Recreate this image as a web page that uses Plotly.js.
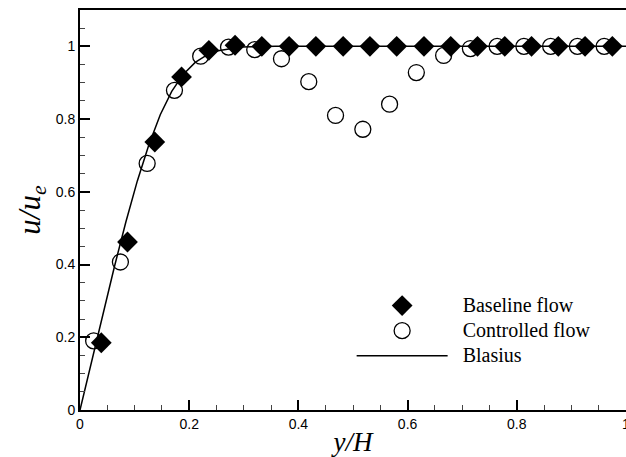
<!DOCTYPE html>
<html>
<head>
<meta charset="utf-8">
<script src="https://cdn.plot.ly/plotly-3.0.1.min.js"></script>
<style>html,body{margin:0;padding:0;background:#fff;}#chart{width:626px;height:457px;}</style>
</head>
<body>
<div id="chart"></div>
<script>
// Baseline flow (filled diamonds)
var baseX = [0.039, 0.087, 0.137, 0.186, 0.236, 0.284, 0.333, 0.383, 0.432, 0.482, 0.531, 0.580, 0.630, 0.679, 0.728, 0.778, 0.827, 0.876, 0.925, 0.975];
var baseU = [0.185, 0.462, 0.737, 0.916, 0.989, 1.003, 1.0, 1.0, 1.0, 1.0, 1.0, 1.0, 1.0, 1.0, 1.0, 1.0, 1.0, 1.0, 1.0, 1.0];
// Controlled flow (open circles)
var ctrlX = [0.025, 0.074, 0.123, 0.173, 0.221, 0.272, 0.320, 0.369, 0.419, 0.468, 0.518, 0.567, 0.616, 0.666, 0.715, 0.764, 0.813, 0.862, 0.911, 0.960];
var ctrlU = [0.19, 0.407, 0.678, 0.879, 0.973, 0.998, 0.991, 0.966, 0.903, 0.810, 0.772, 0.841, 0.928, 0.975, 0.994, 1.0, 1.0, 1.0, 1.0, 1.0];
// Blasius profile
var blasX = [0, 0.021, 0.042, 0.063, 0.084, 0.105, 0.126, 0.147, 0.168, 0.189, 0.211, 0.232, 0.253, 0.274, 0.295, 0.316, 0.358, 1.0];
var blasU = [0, 0.133, 0.265, 0.394, 0.517, 0.630, 0.729, 0.812, 0.876, 0.923, 0.956, 0.976, 0.988, 0.994, 0.998, 0.999, 1.0, 1.0];
var xTicks = [0, 0.2, 0.4, 0.6, 0.8, 1];
var yTicks = [0, 0.2, 0.4, 0.6, 0.8, 1];
var seriesNames = ['Baseline flow', 'Controlled flow', 'Blasius'];

function legendName(s) {
  return '<span style="font-size:20px">\u00A0\u00A0' + s + '</span>';
}

var traces = [
  {x: blasX, y: blasU, mode: 'lines', name: legendName(seriesNames[2]), line: {color: '#000', width: 1.5}, legendrank: 3},
  {x: ctrlX, y: ctrlU, mode: 'markers', name: legendName(seriesNames[1]), legendrank: 2,
   marker: {symbol: 'circle-open', size: 16, color: '#000', line: {width: 1.3, color: '#000'}}},
  {x: baseX, y: baseU, mode: 'markers', name: legendName(seriesNames[0]), legendrank: 1,
   marker: {symbol: 'diamond', size: 16, color: '#000', line: {width: 0}}}
];

var axisCommon = {
  showgrid: false, zeroline: false, showline: true, linecolor: '#000', linewidth: 2,
  mirror: true, ticks: 'inside', ticklen: 10, tickwidth: 2, tickcolor: '#000',
  ticklabeloverflow: 'allow',
  tickfont: {family: 'Liberation Sans', size: 14, color: '#000'},
  minor: {dtick: 0.05, ticks: 'inside', ticklen: 5, tickwidth: 1, tickcolor: '#444'}
};

var layout = {
  width: 626, height: 457,
  margin: {l: 80, r: 0, t: 10, b: 47},
  paper_bgcolor: '#fff', plot_bgcolor: '#fff',
  xaxis: Object.assign({}, axisCommon, {
    range: [0, 1], tickvals: xTicks, ticktext: xTicks.map(String),
    title: {text: 'y/H', standoff: 2, font: {family: 'Liberation Serif', size: 27, style: 'italic', color: '#000'}}
  }),
  yaxis: Object.assign({}, axisCommon, {
    range: [0, 1.1], tickvals: yTicks, ticktext: yTicks.map(String),
    title: {text: 'u/u<sub>e</sub>', standoff: 6, font: {family: 'Liberation Serif', size: 31, style: 'italic', color: '#000'}}
  }),
  showlegend: true,
  legend: {
    x: 0.4975, y: 0.305, xanchor: 'left', yanchor: 'top',
    bgcolor: 'rgba(0,0,0,0)', borderwidth: 0,
    itemwidth: 91, tracegroupgap: 0,
    font: {family: 'Liberation Serif', size: 17, color: '#000'}
  }
};

Plotly.newPlot('chart', traces, layout, {displayModeBar: false, staticPlot: true});
</script>
</body>
</html>
